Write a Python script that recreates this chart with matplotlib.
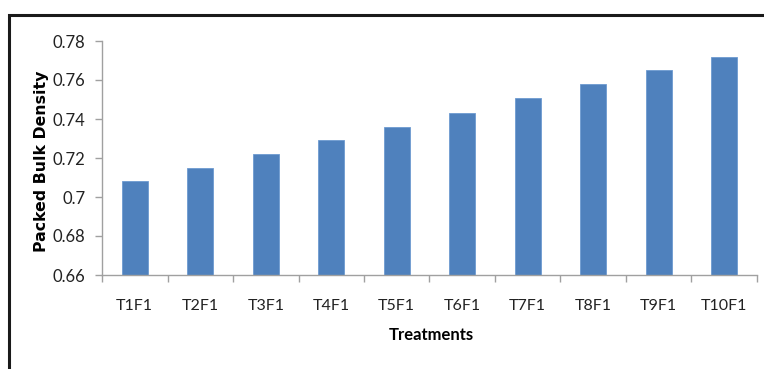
import matplotlib.pyplot as plt
from matplotlib.patches import Rectangle
import numpy as np

# Packed bulk density per treatment
treatments = ['T1F1', 'T2F1', 'T3F1', 'T4F1', 'T5F1',
              'T6F1', 'T7F1', 'T8F1', 'T9F1', 'T10F1']
density = [0.708, 0.715, 0.722, 0.729, 0.736,
           0.743, 0.751, 0.758, 0.765, 0.772]
y_ticks = [0.66, 0.68, 0.7, 0.72, 0.74, 0.76, 0.78]
y_tick_labels = ['0.66', '0.68', '0.7', '0.72', '0.74', '0.76', '0.78']

W, H = 764, 369
fig = plt.figure(figsize=(W / 100, H / 100), dpi=100)

# chart border (runs off the right and bottom edges)
fig.patches.append(Rectangle((9 / W, -0.1), 1.0, 1 - 15 / H + 0.1,
                             transform=fig.transFigure, fill=False,
                             edgecolor='#1a1a1a', linewidth=2.2))

ax = fig.add_axes([102 / W, 1 - 275 / H, (757 - 102) / W, (275 - 41) / H])

x = np.arange(len(treatments))
ax.bar(x, density, width=0.4, bottom=0, color='#4F81BD',
       edgecolor='#6d9bd1', linewidth=0.6, zorder=2)

ax.set_xlim(-0.5, len(treatments) - 0.5)
ax.set_ylim(0.66, 0.78)

ax.set_yticks(y_ticks)
ax.set_yticklabels(y_tick_labels, fontsize=12, family='Lato', color='#222222')
ax.set_xticks(x)
ax.set_xticklabels(treatments, fontsize=11.5, family='Lato', color='#222222')
ax.tick_params(axis='x', which='major', length=0, pad=17)
ax.set_xticks(np.arange(len(treatments) + 1) - 0.5, minor=True)
ax.tick_params(axis='x', which='minor', length=5, color='#a0a0a0', width=1)
ax.tick_params(axis='y', length=5, color='#a0a0a0', width=1, pad=7)

for side in ['top', 'right']:
    ax.spines[side].set_visible(False)
for side in ['left', 'bottom']:
    ax.spines[side].set_color('#a0a0a0')
    ax.spines[side].set_linewidth(1)

fig.text(431 / W, 1 - 335 / H, 'Treatments', ha='center', va='center',
         fontsize=12, fontweight='bold', family='Lato')
fig.text(42 / W, 1 - 161 / H, 'Packed Bulk Density', ha='center', va='center',
         rotation=90, fontsize=11.3, fontweight='bold', family='DejaVu Sans')

fig.savefig('out.png', dpi=100)
